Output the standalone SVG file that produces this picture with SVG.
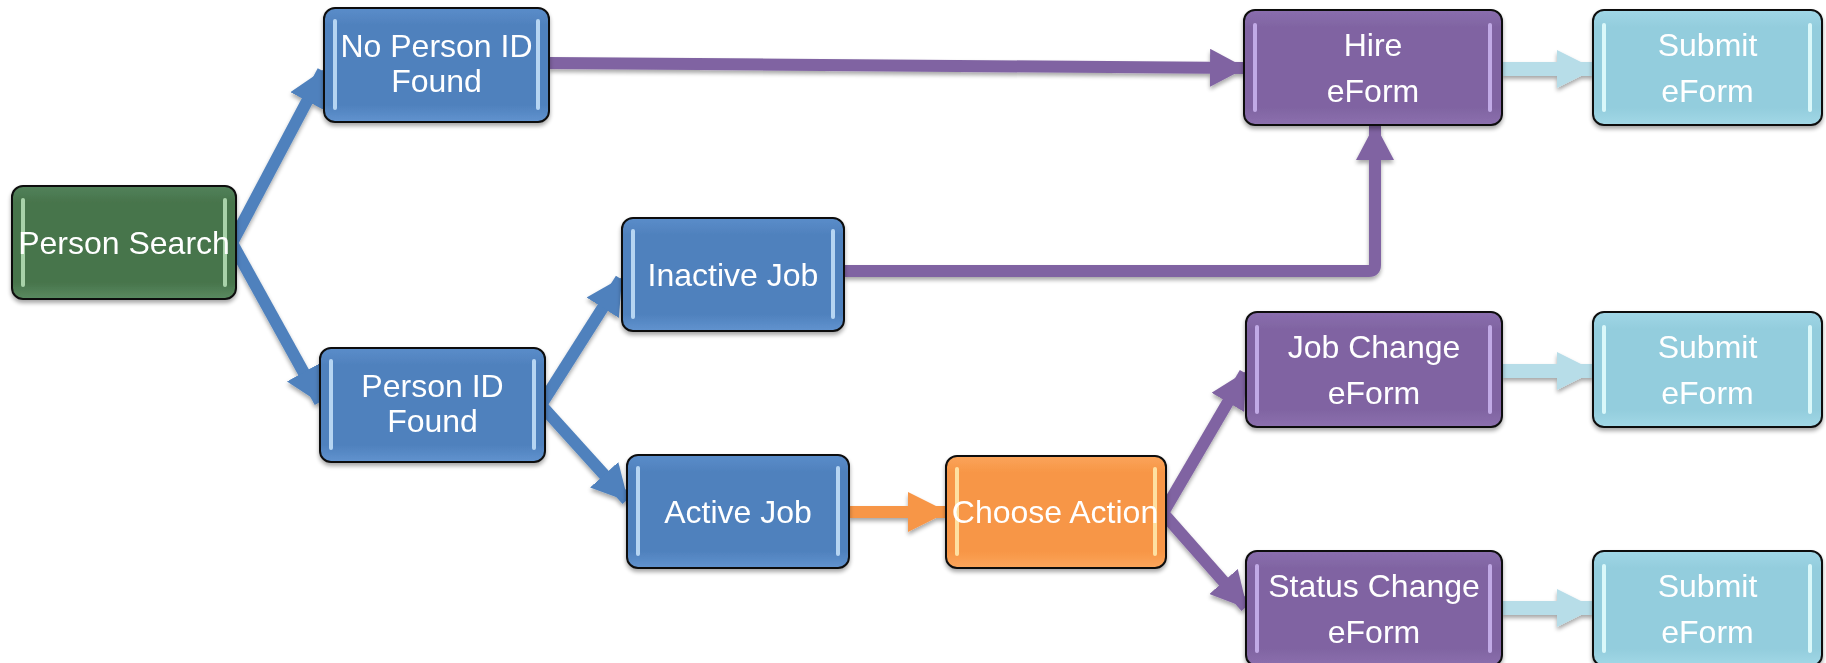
<svg xmlns="http://www.w3.org/2000/svg" width="1826" height="663" viewBox="0 0 1826 663">
  <style>
    .box { stroke: #111; stroke-width: 2; }
    .bar { stroke: none; }
    .label { font-family: "Liberation Sans", Arial, sans-serif; font-size: 32px; fill: #ffffff; text-anchor: middle; }
    .conn { fill: none; stroke-width: 12; stroke-linejoin: round; }
    .blue { stroke: #4f81bd; }
    .purple { stroke: #8064a2; }
    .orange { stroke: #f79646; }
    .teal { stroke: #b7dde8; stroke-width: 14; }
  </style>
  <defs>
    <filter id="shadow" x="-10%" y="-10%" width="120%" height="130%">
      <feGaussianBlur in="SourceAlpha" stdDeviation="2"/>
      <feOffset dx="0" dy="3" result="b"/>
      <feComponentTransfer><feFuncA type="linear" slope="0.35"/></feComponentTransfer>
      <feMerge><feMergeNode/><feMergeNode in="SourceGraphic"/></feMerge>
    </filter>
    <linearGradient id="gGreen" x1="0" y1="0" x2="0" y2="1">
      <stop offset="0" stop-color="#52825a"/><stop offset="0.15" stop-color="#47744b"/><stop offset="0.85" stop-color="#47744b"/><stop offset="1" stop-color="#5a8a60"/>
    </linearGradient>
    <linearGradient id="gBlue" x1="0" y1="0" x2="0" y2="1">
      <stop offset="0" stop-color="#5b8dca"/><stop offset="0.15" stop-color="#4f81bd"/><stop offset="0.85" stop-color="#4f81bd"/><stop offset="1" stop-color="#6193cf"/>
    </linearGradient>
    <linearGradient id="gPurple" x1="0" y1="0" x2="0" y2="1">
      <stop offset="0" stop-color="#8a6eae"/><stop offset="0.15" stop-color="#8064a2"/><stop offset="0.85" stop-color="#8064a2"/><stop offset="1" stop-color="#8c70ae"/>
    </linearGradient>
    <linearGradient id="gTeal" x1="0" y1="0" x2="0" y2="1">
      <stop offset="0" stop-color="#a0d6e6"/><stop offset="0.15" stop-color="#93cddd"/><stop offset="0.85" stop-color="#93cddd"/><stop offset="1" stop-color="#a2d8e6"/>
    </linearGradient>
    <linearGradient id="gOrange" x1="0" y1="0" x2="0" y2="1">
      <stop offset="0" stop-color="#fba45a"/><stop offset="0.15" stop-color="#f79646"/><stop offset="0.85" stop-color="#f79646"/><stop offset="1" stop-color="#fca65c"/>
    </linearGradient>
    <marker id="aBlue" markerUnits="userSpaceOnUse" markerWidth="36" markerHeight="38" refX="34" refY="19" orient="auto">
      <path d="M0,0 L36,19 L0,38 Z" fill="#4f81bd"/>
    </marker>
    <marker id="aPurple" markerUnits="userSpaceOnUse" markerWidth="36" markerHeight="38" refX="34" refY="19" orient="auto">
      <path d="M0,0 L36,19 L0,38 Z" fill="#8064a2"/>
    </marker>
    <marker id="aOrange" markerUnits="userSpaceOnUse" markerWidth="40" markerHeight="40" refX="38" refY="20" orient="auto">
      <path d="M0,0 L40,20 L0,40 Z" fill="#f79646"/>
    </marker>
    <marker id="aTeal" markerUnits="userSpaceOnUse" markerWidth="38" markerHeight="38" refX="36" refY="19" orient="auto">
      <path d="M0,0 L38,19 L0,38 Z" fill="#b7dde8"/>
    </marker>
  </defs>

  <rect width="1826" height="663" fill="#ffffff"/>

  <!-- connectors -->
  <g id="connectors" filter="url(#shadow)">
    <path class="conn blue" d="M232,243 L323,71" marker-end="url(#aBlue)"/>
    <path class="conn blue" d="M232,243 L320,402" marker-end="url(#aBlue)"/>
    <path class="conn blue" d="M541,405 L621,279" marker-end="url(#aBlue)"/>
    <path class="conn blue" d="M541,405 L627,500" marker-end="url(#aBlue)"/>
    <path class="conn orange" d="M849,512 L946,512" marker-end="url(#aOrange)"/>
    <path class="conn purple" d="M1163,513 L1245,373" marker-end="url(#aPurple)"/>
    <path class="conn purple" d="M1163,513 L1246,607" marker-end="url(#aPurple)"/>
    <path class="conn purple" d="M549,63 L1244,68" marker-end="url(#aPurple)"/>
    <path class="conn purple" d="M844,271 L1369,271 Q1375,271 1375,265 L1375,126" marker-end="url(#aPurple)"/>
    <path class="conn teal" d="M1502,69 L1593,69" marker-end="url(#aTeal)"/>
    <path class="conn teal" d="M1502,371 L1593,371" marker-end="url(#aTeal)"/>
    <path class="conn teal" d="M1502,608 L1593,608" marker-end="url(#aTeal)"/>
  </g>

  <!-- nodes -->
  <g id="person-search" filter="url(#shadow)">
    <rect class="box" x="12" y="186" width="224" height="113" rx="11" fill="url(#gGreen)"/>
    <rect class="bar" x="21" y="198" width="4" height="89" rx="2" fill="#c8f2c8" opacity="0.75"/>
    <rect class="bar" x="223" y="198" width="4" height="89" rx="2" fill="#c8f2c8" opacity="0.75"/>
    <text class="label" x="124" y="254">Person Search</text>
  </g>

  <g id="no-person-id-found" filter="url(#shadow)">
    <rect class="box" x="324" y="8" width="225" height="114" rx="11" fill="url(#gBlue)"/>
    <rect class="bar" x="333" y="19" width="4" height="91" rx="2" fill="#cfeaff" opacity="0.8"/>
    <rect class="bar" x="536" y="19" width="4" height="91" rx="2" fill="#cfeaff" opacity="0.8"/>
    <text class="label" x="436.5" y="57">No Person ID</text>
    <text class="label" x="436.5" y="92">Found</text>
  </g>

  <g id="person-id-found" filter="url(#shadow)">
    <rect class="box" x="320" y="348" width="225" height="114" rx="11" fill="url(#gBlue)"/>
    <rect class="bar" x="329" y="359" width="4" height="91" rx="2" fill="#cfeaff" opacity="0.8"/>
    <rect class="bar" x="532" y="359" width="4" height="91" rx="2" fill="#cfeaff" opacity="0.8"/>
    <text class="label" x="432.5" y="397">Person ID</text>
    <text class="label" x="432.5" y="432">Found</text>
  </g>

  <g id="inactive-job" filter="url(#shadow)">
    <rect class="box" x="622" y="218" width="222" height="113" rx="11" fill="url(#gBlue)"/>
    <rect class="bar" x="631" y="229" width="4" height="90" rx="2" fill="#cfeaff" opacity="0.8"/>
    <rect class="bar" x="831" y="229" width="4" height="90" rx="2" fill="#cfeaff" opacity="0.8"/>
    <text class="label" x="733" y="286">Inactive Job</text>
  </g>

  <g id="active-job" filter="url(#shadow)">
    <rect class="box" x="627" y="455" width="222" height="113" rx="11" fill="url(#gBlue)"/>
    <rect class="bar" x="636" y="466" width="4" height="90" rx="2" fill="#cfeaff" opacity="0.8"/>
    <rect class="bar" x="836" y="466" width="4" height="90" rx="2" fill="#cfeaff" opacity="0.8"/>
    <text class="label" x="738" y="523">Active Job</text>
  </g>

  <g id="choose-action" filter="url(#shadow)">
    <rect class="box" x="946" y="456" width="220" height="112" rx="11" fill="url(#gOrange)"/>
    <rect class="bar" x="955" y="467" width="4" height="89" rx="2" fill="#fff2b8" opacity="0.8"/>
    <rect class="bar" x="1153" y="467" width="4" height="89" rx="2" fill="#fff2b8" opacity="0.8"/>
    <text class="label" x="1055" y="523">Choose Action</text>
  </g>

  <g id="hire-eform" filter="url(#shadow)">
    <rect class="box" x="1244" y="10" width="258" height="115" rx="11" fill="url(#gPurple)"/>
    <rect class="bar" x="1253" y="23" width="4" height="89" rx="2" fill="#cdb6f2" opacity="0.85"/>
    <rect class="bar" x="1488" y="23" width="4" height="89" rx="2" fill="#cdb6f2" opacity="0.85"/>
    <text class="label" x="1373" y="56">Hire</text>
    <text class="label" x="1373" y="102">eForm</text>
  </g>

  <g id="submit-eform-1" filter="url(#shadow)">
    <rect class="box" x="1593" y="10" width="229" height="115" rx="11" fill="url(#gTeal)"/>
    <rect class="bar" x="1602" y="23" width="4" height="89" rx="2" fill="#e6ffff" opacity="0.85"/>
    <rect class="bar" x="1808" y="23" width="4" height="89" rx="2" fill="#e6ffff" opacity="0.85"/>
    <text class="label" x="1707.5" y="56">Submit</text>
    <text class="label" x="1707.5" y="102">eForm</text>
  </g>

  <g id="job-change-eform" filter="url(#shadow)">
    <rect class="box" x="1246" y="312" width="256" height="115" rx="11" fill="url(#gPurple)"/>
    <rect class="bar" x="1255" y="325" width="4" height="89" rx="2" fill="#cdb6f2" opacity="0.85"/>
    <rect class="bar" x="1488" y="325" width="4" height="89" rx="2" fill="#cdb6f2" opacity="0.85"/>
    <text class="label" x="1374" y="358">Job Change</text>
    <text class="label" x="1374" y="404">eForm</text>
  </g>

  <g id="submit-eform-2" filter="url(#shadow)">
    <rect class="box" x="1593" y="312" width="229" height="115" rx="11" fill="url(#gTeal)"/>
    <rect class="bar" x="1602" y="325" width="4" height="89" rx="2" fill="#e6ffff" opacity="0.85"/>
    <rect class="bar" x="1808" y="325" width="4" height="89" rx="2" fill="#e6ffff" opacity="0.85"/>
    <text class="label" x="1707.5" y="358">Submit</text>
    <text class="label" x="1707.5" y="404">eForm</text>
  </g>

  <g id="status-change-eform" filter="url(#shadow)">
    <rect class="box" x="1246" y="551" width="256" height="115" rx="11" fill="url(#gPurple)"/>
    <rect class="bar" x="1255" y="564" width="4" height="89" rx="2" fill="#cdb6f2" opacity="0.85"/>
    <rect class="bar" x="1488" y="564" width="4" height="89" rx="2" fill="#cdb6f2" opacity="0.85"/>
    <text class="label" x="1374" y="597">Status Change</text>
    <text class="label" x="1374" y="643">eForm</text>
  </g>

  <g id="submit-eform-3" filter="url(#shadow)">
    <rect class="box" x="1593" y="551" width="229" height="115" rx="11" fill="url(#gTeal)"/>
    <rect class="bar" x="1602" y="564" width="4" height="89" rx="2" fill="#e6ffff" opacity="0.85"/>
    <rect class="bar" x="1808" y="564" width="4" height="89" rx="2" fill="#e6ffff" opacity="0.85"/>
    <text class="label" x="1707.5" y="597">Submit</text>
    <text class="label" x="1707.5" y="643">eForm</text>
  </g>
</svg>
